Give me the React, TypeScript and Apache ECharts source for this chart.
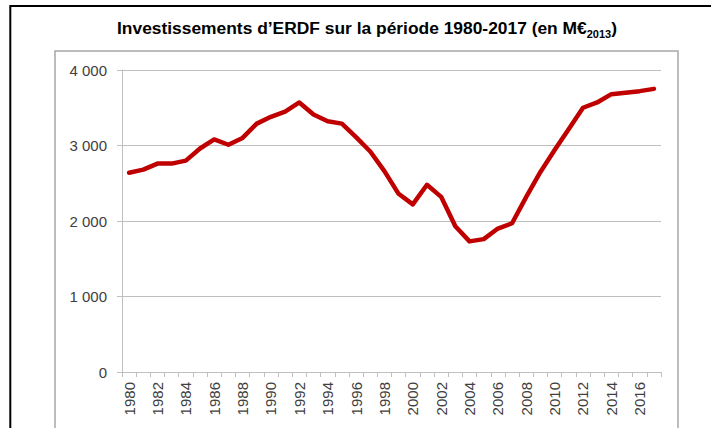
import React, { useEffect, useRef } from "react";
import * as echarts from "echarts";

const years = [
  "1980", "1981", "1982", "1983", "1984", "1985", "1986", "1987", "1988", "1989",
  "1990", "1991", "1992", "1993", "1994", "1995", "1996", "1997", "1998", "1999",
  "2000", "2001", "2002", "2003", "2004", "2005", "2006", "2007", "2008", "2009",
  "2010", "2011", "2012", "2013", "2014", "2015", "2016", "2017",
];

const investments = [
  2640, 2680, 2760, 2760, 2800, 2960, 3080, 3010, 3100, 3290,
  3380, 3450, 3570, 3410, 3320, 3290, 3110, 2920, 2660, 2360,
  2220, 2480, 2320, 1930, 1730, 1760, 1900, 1970, 2320, 2650,
  2940, 3220, 3500, 3570, 3680, 3700, 3720, 3750,
];

const titleMain = "Investissements d\u2019ERDF sur la p\u00e9riode 1980-2017 (en M\u20ac";
const titleSub = "2013";
const titleEnd = ")";

const fmt = (v: number) => String(v).replace(/\B(?=(\d{3})+(?!\d))/g, " ");

export default function App() {
  const ref = useRef<HTMLDivElement>(null);
  useEffect(() => {
    document.body.style.margin = "0";
    const chart = echarts.init(ref.current!, null, { renderer: "svg" });
    const font = "'Liberation Sans', Arial, sans-serif";
    chart.setOption({
      animation: false,
      backgroundColor: "#ffffff",
      title: {
        text: `{a|${titleMain}}{s|${titleSub}}{a|${titleEnd}}`,
        left: 117,
        top: 17,
        padding: 0,
        textStyle: {
          rich: {
            a: { fontFamily: font, fontWeight: "bold", fontSize: 17.4, color: "#000", lineHeight: 22 },
            s: { fontFamily: font, fontWeight: "bold", fontSize: 11, color: "#000", lineHeight: 11, verticalAlign: "bottom" },
          },
        },
      },
      graphic: [
        {
          type: "rect",
          shape: { x: 10.3, y: 6, width: 730, height: 460 },
          style: { fill: "none", stroke: "#000", lineWidth: 2 },
          silent: true,
        },
        {
          type: "rect",
          shape: { x: 55, y: 51, width: 623, height: 420 },
          style: { fill: "none", stroke: "#a6a6a6", lineWidth: 1.5 },
          silent: true,
        },
      ],
      grid: { left: 122, right: 50, top: 70, bottom: 56, containLabel: false },
      xAxis: {
        type: "category",
        data: years,
        boundaryGap: true,
        axisLine: { show: true, lineStyle: { color: "#bfbfbf", width: 1 } },
        axisTick: { show: true, interval: 0, length: 5, lineStyle: { color: "#bfbfbf" } },
        axisLabel: {
          interval: 1,
          rotate: 90,
          margin: 10,
          fontFamily: font,
          fontSize: 15,
          color: "#404040",
        },
        splitLine: { show: false },
      },
      yAxis: {
        type: "value",
        min: 0,
        max: 4000,
        interval: 1000,
        axisLine: { show: true, lineStyle: { color: "#bfbfbf", width: 1 } },
        axisTick: { show: true, length: 5, lineStyle: { color: "#bfbfbf" } },
        axisLabel: {
          margin: 15,
          fontFamily: font,
          fontSize: 15,
          color: "#404040",
          formatter: (v: number) => fmt(v),
        },
        splitLine: { show: true, lineStyle: { color: "#bfbfbf", width: 1 } },
      },
      series: [
        {
          type: "line",
          data: investments,
          showSymbol: false,
          symbol: "none",
          lineStyle: { color: "#c00000", width: 4.5, join: "round", cap: "round" },
          itemStyle: { color: "#c00000" },
        },
      ],
    });
    return () => chart.dispose();
  }, []);
  return <div ref={ref} style={{ width: 711, height: 428 }} />;
}
